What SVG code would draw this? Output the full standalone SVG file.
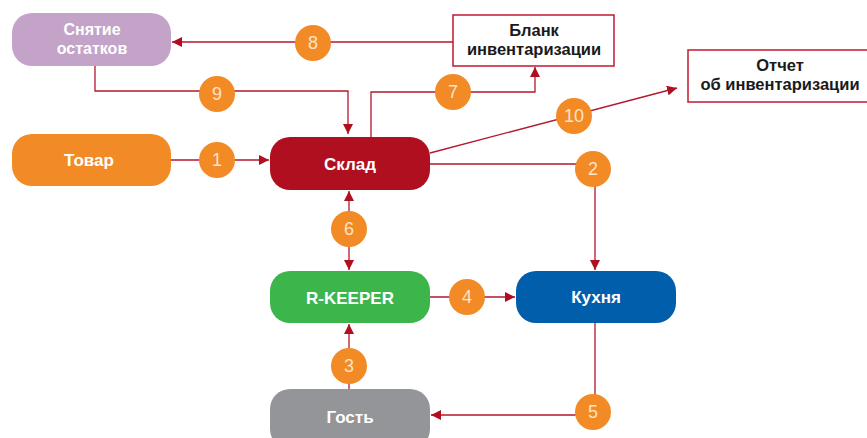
<svg xmlns="http://www.w3.org/2000/svg" width="867" height="438" viewBox="0 0 867 438">
<style>
.t{font-family:"Liberation Sans",Arial,sans-serif;font-weight:bold;font-size:17px;fill:#fff;text-anchor:middle}
.b{font-family:"Liberation Sans",Arial,sans-serif;font-weight:bold;font-size:16.5px;fill:#1a1a1a;text-anchor:middle}
.n{font-family:"Liberation Sans",Arial,sans-serif;font-size:18px;fill:#fde3c8;text-anchor:middle}
.c{stroke:#b5172b;stroke-width:1.3;fill:none}
.nc{fill:#f28a25}
.box{fill:#fff;stroke:#c0182f;stroke-width:1.5}
</style>
<defs>
<marker id="a" viewBox="0 0 10 10" refX="10" refY="5" markerWidth="10" markerHeight="10" markerUnits="userSpaceOnUse" orient="auto-start-reverse"><path d="M0,0 L10,5 L0,10 z" fill="#b00f1f"/></marker>
</defs>
<g id="connectors">
<path class="c" d="M453,42 H172" marker-end="url(#a)"/>
<path class="c" d="M95,66 V91 H348 V134" marker-end="url(#a)"/>
<path class="c" d="M371,137 V92 H535 V67" marker-end="url(#a)"/>
<path class="c" d="M430,153 L677,88" marker-end="url(#a)"/>
<path class="c" d="M171,160 H269" marker-end="url(#a)"/>
<path class="c" d="M430,164 H595 V270" marker-end="url(#a)"/>
<path class="c" d="M349,191 V270" marker-start="url(#a)" marker-end="url(#a)"/>
<path class="c" d="M430,297 H515" marker-end="url(#a)"/>
<path class="c" d="M349,389 V324" marker-end="url(#a)"/>
<path class="c" d="M595,323 V415 H431" marker-end="url(#a)"/>
</g>
<g id="snyatie"><rect x="12" y="13" width="159" height="53" rx="20" fill="#c4a3c9"/><text class="t" x="92" y="35" style="font-size:16px">Снятие</text><text class="t" x="92" y="54" style="font-size:16px">остатков</text></g>
<g id="tovar"><rect x="12" y="134" width="159" height="52" rx="20" fill="#f28a25"/><text class="t" x="89" y="166">Товар</text></g>
<g id="sklad"><rect x="270" y="137" width="160" height="53" rx="20" fill="#b00f1f"/><text class="t" x="350" y="170">Склад</text></g>
<g id="rkeeper"><rect x="270" y="271" width="160" height="52" rx="20" fill="#3cb54b"/><text class="t" x="350" y="304">R-KEEPER</text></g>
<g id="kuhnya"><rect x="516" y="271" width="160" height="52" rx="20" fill="#005eab"/><text class="t" x="596" y="303">Кухня</text></g>
<g id="gost"><rect x="270" y="389" width="160" height="60" rx="20" fill="#939598"/><text class="t" x="350" y="423">Гость</text></g>
<g id="blank"><rect class="box" x="453" y="15" width="161" height="51"/><text class="b" x="534" y="36">Бланк</text><text class="b" x="534" y="55">инвентаризации</text></g>
<g id="otchet"><rect class="box" x="688" y="50" width="190" height="52"/><text class="b" x="780" y="71">Отчет</text><text class="b" x="780" y="90">об инвентаризации</text></g>
<g id="labels">
<circle class="nc" cx="313" cy="43" r="18"/><text class="n" x="313" y="49">8</text>
<circle class="nc" cx="217" cy="94" r="18"/><text class="n" x="217" y="100">9</text>
<circle class="nc" cx="217" cy="160" r="18"/><text class="n" x="217" y="166">1</text>
<circle class="nc" cx="453" cy="92" r="18"/><text class="n" x="453" y="98">7</text>
<circle class="nc" cx="574" cy="116" r="18"/><text class="n" x="574" y="122">10</text>
<circle class="nc" cx="593" cy="169" r="18"/><text class="n" x="593" y="175">2</text>
<circle class="nc" cx="349" cy="229" r="18"/><text class="n" x="349" y="235">6</text>
<circle class="nc" cx="467" cy="297" r="18"/><text class="n" x="467" y="303">4</text>
<circle class="nc" cx="349" cy="366" r="18"/><text class="n" x="349" y="372">3</text>
<circle class="nc" cx="593" cy="412" r="18"/><text class="n" x="593" y="418">5</text>
</g>
</svg>
